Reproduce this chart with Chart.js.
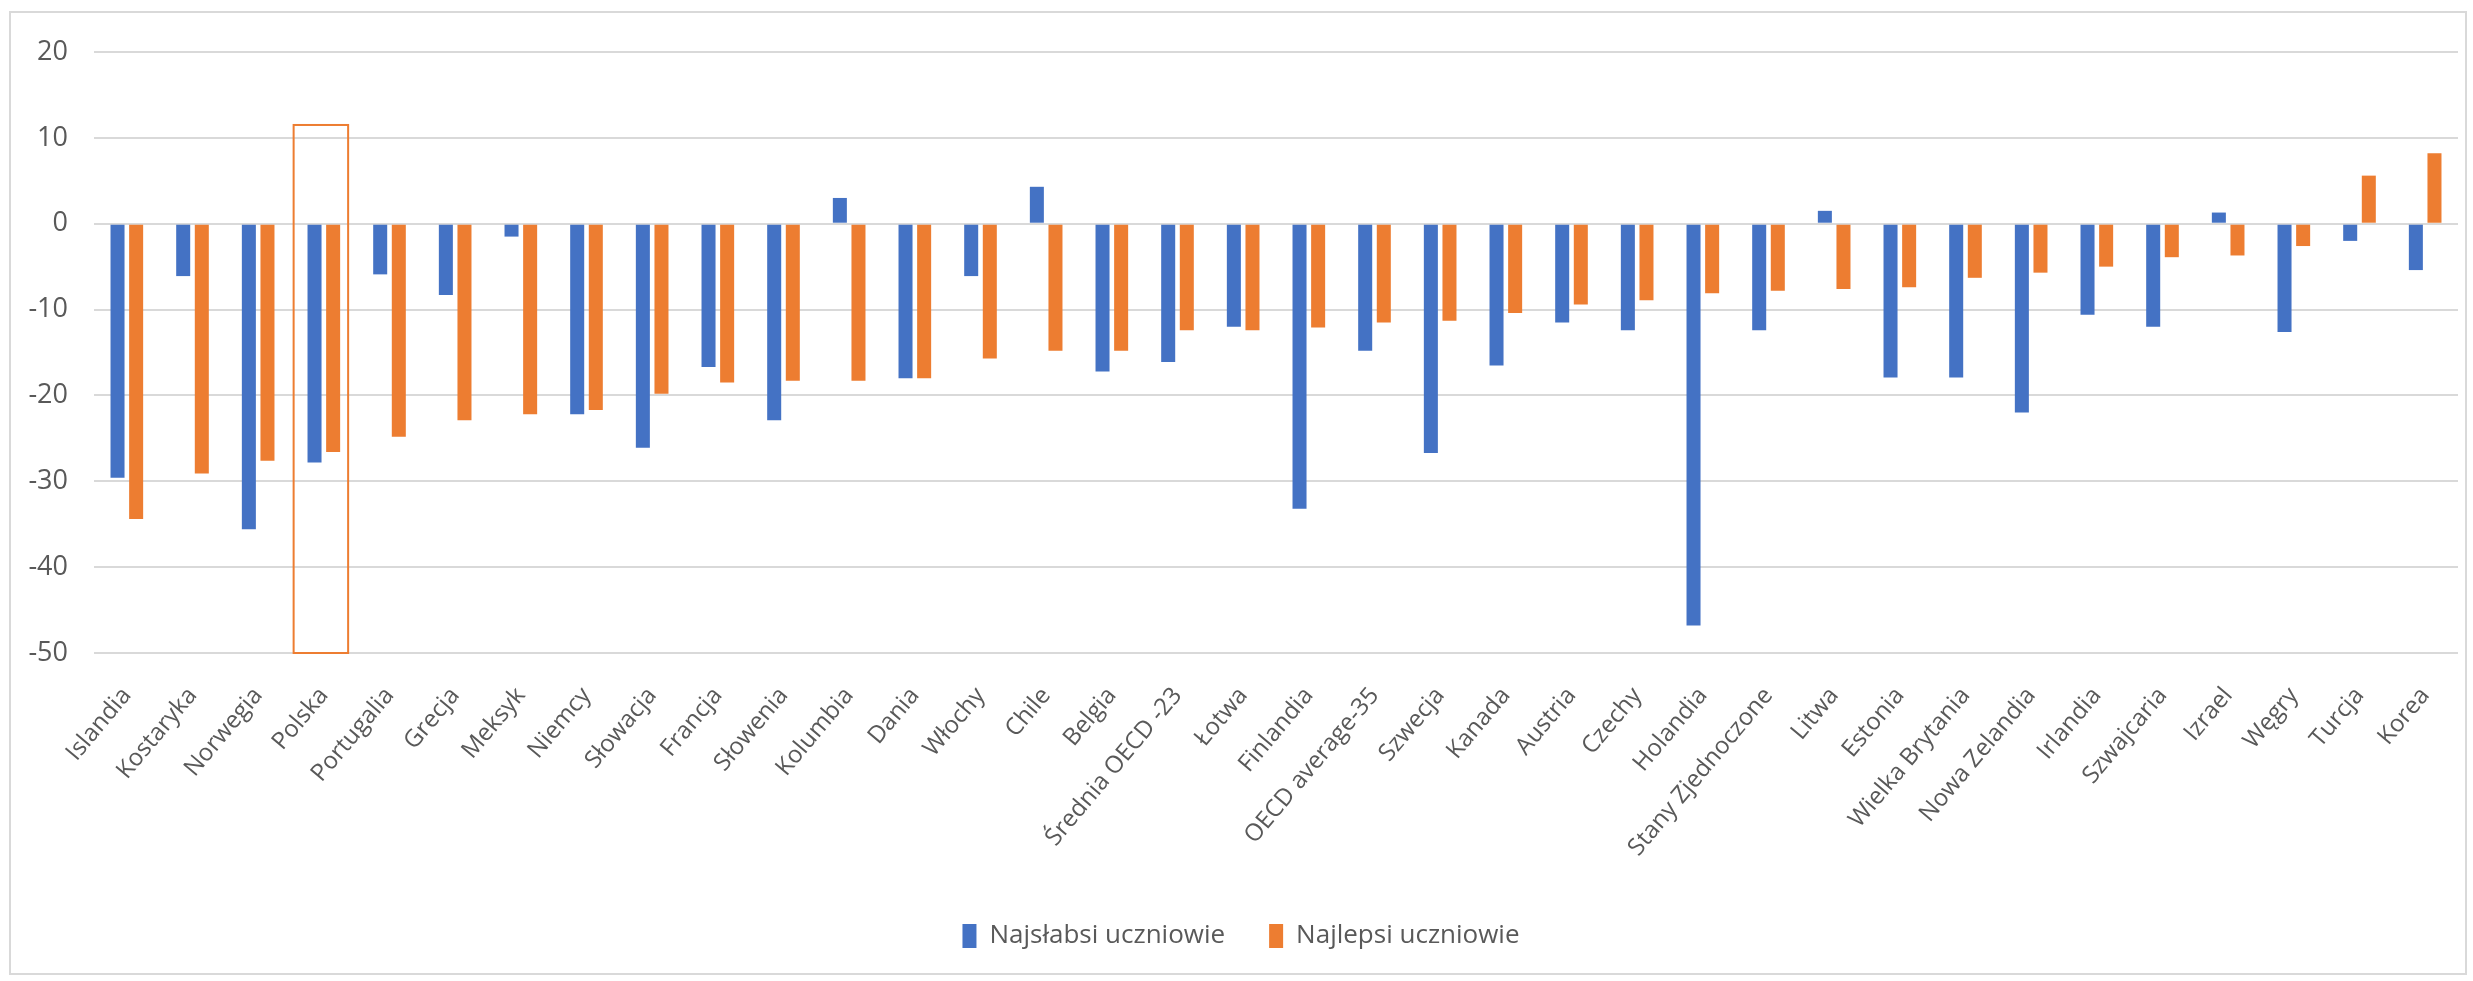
<!DOCTYPE html>
<html>
<head>
<meta charset="utf-8">
<script src="https://cdn.jsdelivr.net/npm/chart.js@4"></script>
<style>
    body { margin: 0; background: #fff; }
    #wrap { width: 2473px; height: 981px; position: relative; }
</style>
</head>
<body>
<div id="wrap"><canvas id="myChart"></canvas></div>
<script>
const countries = ['Islandia', 'Kostaryka', 'Norwegia', 'Polska', 'Portugalia', 'Grecja', 'Meksyk', 'Niemcy',
    'Słowacja', 'Francja', 'Słowenia', 'Kolumbia', 'Dania', 'Włochy', 'Chile', 'Belgia', 'Średnia OECD -23',
    'Łotwa', 'Finlandia', 'OECD average-35', 'Szwecja', 'Kanada', 'Austria', 'Czechy', 'Holandia',
    'Stany Zjednoczone', 'Litwa', 'Estonia', 'Wielka Brytania', 'Nowa Zelandia', 'Irlandia', 'Szwajcaria',
    'Izrael', 'Węgry', 'Turcja', 'Korea'];

const weakest = [-29.6, -6.1, -35.6, -27.8, -5.9, -8.3, -1.5, -22.2, -26.1, -16.7, -22.9, 3.0, -18.0, -6.1,
    4.3, -17.2, -16.1, -12.0, -33.2, -14.8, -26.7, -16.5, -11.5, -12.4, -46.8, -12.4, 1.5, -17.9, -17.9,
    -22.0, -10.6, -12.0, 1.3, -12.6, -2.0, -5.4];

const best = [-34.4, -29.1, -27.6, -26.6, -24.8, -22.9, -22.2, -21.7, -19.8, -18.5, -18.3, -18.3, -18.0, -15.7,
    -14.8, -14.8, -12.4, -12.4, -12.1, -11.5, -11.3, -10.4, -9.4, -8.9, -8.1, -7.8, -7.6, -7.4, -6.3,
    -5.7, -5.0, -3.9, -3.7, -2.6, 5.6, 8.2];

const seriesNames = ['Najsłabsi uczniowie', 'Najlepsi uczniowie'];

// highlighted category (Polska) frame, in data units
const highlightIndex = 3;
const highlightTop = 11.5;
const highlightBottom = -50;

const textColor = '#595959';
const gridColor = '#d9d9d9';

// outer frame of the chart + highlight box around Polska
const framePlugin = {
    id: 'frame',
    beforeDraw(chart) {
        const ctx = chart.ctx;
        ctx.save();
        ctx.fillStyle = '#ffffff';
        ctx.fillRect(0, 0, chart.width, chart.height);
        ctx.strokeStyle = gridColor;
        ctx.lineWidth = 2;
        ctx.strokeRect(10, 12, chart.width - 17, chart.height - 19);
        ctx.restore();
    },
    afterDatasetsDraw(chart) {
        const x = chart.scales.x;
        const y = chart.scales.y;
        const left = x.getPixelForValue(highlightIndex - 0.46);
        const right = x.getPixelForValue(highlightIndex + 0.37);
        const top = y.getPixelForValue(highlightTop);
        const bottom = y.getPixelForValue(highlightBottom);
        const ctx = chart.ctx;
        ctx.save();
        ctx.strokeStyle = '#ED7D31';
        ctx.lineWidth = 2;
        ctx.strokeRect(left, top, right - left, bottom - top);
        ctx.restore();
    }
};

const ctx = document.getElementById('myChart');
new Chart(ctx, {
    type: 'bar',
    data: {
        labels: countries,
        datasets: [{
            label: seriesNames[0],
            data: weakest,
            backgroundColor: '#4472C4',
            borderWidth: 0
        }, {
            label: seriesNames[1],
            data: best,
            backgroundColor: '#ED7D31',
            borderWidth: 0
        }]
    },
    options: {
        responsive: true,
        maintainAspectRatio: false,
        animation: false,
        categoryPercentage: 0.567,
        barPercentage: 0.753,
        layout: {
            padding: { left: 24, right: 15, top: 52, bottom: 22 }
        },
        plugins: {
            tooltip: { enabled: false },
            legend: {
                position: 'bottom',
                labels: {
                    color: textColor,
                    font: { family: 'Open Sans', size: 26 },
                    boxWidth: 14,
                    boxHeight: 24,
                    padding: 44
                }
            }
        },
        scales: {
            x: {
                grid: { display: false },
                border: { display: false },
                ticks: {
                    color: textColor,
                    font: { family: 'Open Sans', size: 24 },
                    autoSkip: false,
                    minRotation: 50,
                    maxRotation: 50,
                    padding: 21
                },
                afterFit(scale) {
                    scale.height = 226;
                }
            },
            y: {
                min: -50,
                max: 20,
                ticks: {
                    stepSize: 10,
                    color: textColor,
                    font: { family: 'Open Sans', size: 27 },
                    padding: 26
                },
                grid: {
                    color: gridColor,
                    lineWidth: 2,
                    drawTicks: false
                },
                border: { display: false },
                afterFit(scale) {
                    scale.width = 70;
                }
            }
        }
    },
    plugins: [framePlugin]
});
</script>
</body>
</html>
